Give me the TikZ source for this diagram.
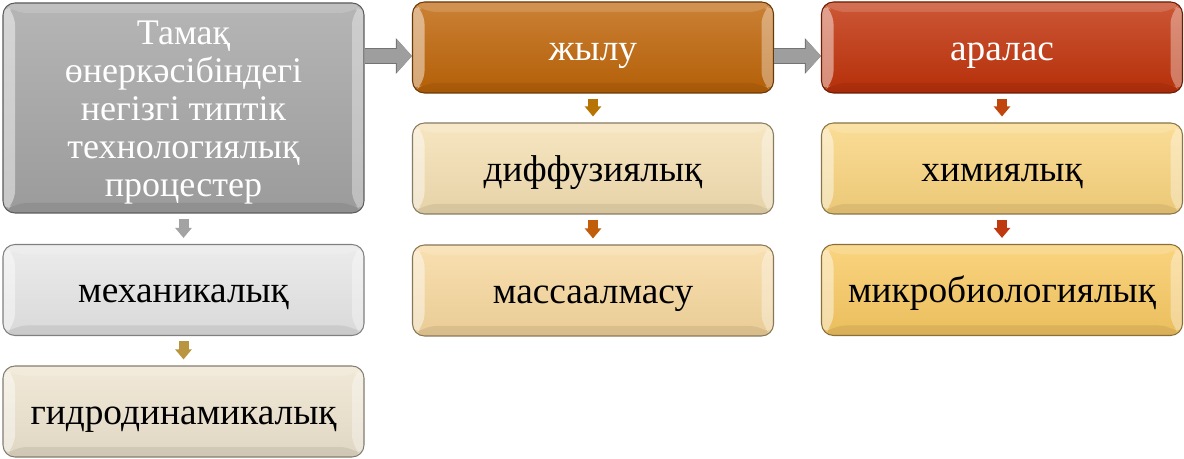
\documentclass[tikz,border=0pt]{standalone}
\usepackage{fontspec}
\setmainfont{Liberation Serif}
\usetikzlibrary{arrows.meta,calc}

\definecolor{greybox}{HTML}{A5A5A5}
\definecolor{mechbox}{HTML}{E7E7E7}
\definecolor{hydrobox}{HTML}{EEE4CF}
\definecolor{heatbox}{HTML}{BF6508}
\definecolor{diffbox}{HTML}{F5E0B3}
\definecolor{massbox}{HTML}{F8D99F}
\definecolor{mixbox}{HTML}{C1320A}
\definecolor{chembox}{HTML}{FAD57F}
\definecolor{microbox}{HTML}{F9CA63}
\definecolor{arrgrey}{HTML}{A3A3A3}
\definecolor{arrolive}{HTML}{B8953E}
\definecolor{arrgold}{HTML}{B87305}
\definecolor{arrorange}{HTML}{C05E0C}
\definecolor{arrred}{HTML}{C0460E}
\definecolor{arrdred}{HTML}{C03A10}

\tikzset{
  bevel/.style={path picture={
    \coordinate (pnw) at (path picture bounding box.north west);
    \coordinate (pne) at (path picture bounding box.north east);
    \coordinate (psw) at (path picture bounding box.south west);
    \coordinate (pse) at (path picture bounding box.south east);
    \coordinate (hx1) at ($(psw)!9pt!(pse)$);
    \coordinate (vy1) at ($(psw)!7.5pt!(pnw)$);
    \coordinate (hx2) at ($(pne)!9pt!(pnw)$);
    \coordinate (vy2) at ($(pne)!7.5pt!(pse)$);
    \fill[white,opacity=.45] (psw) -- (pnw) -- (hx1|-vy2) -- (hx1|-vy1) -- cycle;
    \fill[white,opacity=.35] (pse) -- (pne) -- (hx2|-vy2) -- (hx2|-vy1) -- cycle;
    \fill[white,opacity=.15] (pnw) -- (pne) -- (hx2|-vy2) -- (hx1|-vy2) -- cycle;
    \fill[black,opacity=.07] (psw) -- (pse) -- (hx2|-vy1) -- (hx1|-vy1) -- cycle;
  }},
  box/.style={rounded corners=9pt, minimum width=270.75pt, minimum height=68.25pt,
    draw=#1!55!black, line width=.8pt, top color=#1!82!white, middle color=#1,
    bottom color=#1!94!black, inner sep=0pt, align=center,
    font=\fontsize{28}{28}\selectfont, bevel},
  onerow/.style={text height=19pt, text depth=0pt},
  bigarr/.style={draw=black!38, line width=10.5pt, -{Triangle[length=11.25pt,width=24pt]},
    preaction={draw=black!55, line width=12pt, -{Triangle[length=12pt,width=26pt]}}},
  sarr/.style={draw=#1, line width=7.5pt, -{Triangle[length=7.5pt,width=12pt]},
    shorten <=3.75pt, shorten >=4.5pt}
}

\begin{document}
\begin{tikzpicture}[x=0.75pt,y=0.75pt,yscale=-1,xscale=1]
\useasboundingbox (0,0) rectangle (1184,459);

% first column
\node[box=greybox, minimum height=157.5pt, text=white, font=\fontsize{27}{28.5}\selectfont] (tamak) at (183.5,108)
  {\rule{0pt}{25pt}Тамақ\\өнеркәсібіндегі\\негізгі типтік\\технологиялық\\процестер};
\node[box=mechbox, onerow] (mech) at (183.5,290) {механикалық};
\node[box=hydrobox, onerow] (hydro) at (183.5,411.5) {гидродинамикалық};

% second column
\node[box=heatbox, onerow, text=white] (zhylu) at (593,47.5) {жылу};
\node[box=diffbox, onerow] (diff) at (593,168.5) {диффузиялық};
\node[box=massbox, onerow] (massa) at (593,290.5) {массаалмасу};

% third column
\node[box=mixbox, onerow, text=white] (aralas) at (1002,47.5) {аралас};
\node[box=chembox, onerow] (chem) at (1002,168.5) {химиялық};
\node[box=microbox, onerow] (micro) at (1002,290) {микробиологиялық};

% arrows
\coordinate (ya) at (0,56);
\draw[bigarr] (tamak.east|-ya) -- (zhylu.west|-ya);
\draw[bigarr] (zhylu.east|-ya) -- (aralas.west|-ya);

\draw[sarr=arrgrey] (tamak) -- (mech);
\draw[sarr=arrolive] (mech) -- (hydro);
\draw[sarr=arrgold] (zhylu) -- (diff);
\draw[sarr=arrorange] (diff) -- (massa);
\draw[sarr=arrred] (aralas) -- (chem);
\draw[sarr=arrdred] (chem) -- (micro);

\end{tikzpicture}
\end{document}
